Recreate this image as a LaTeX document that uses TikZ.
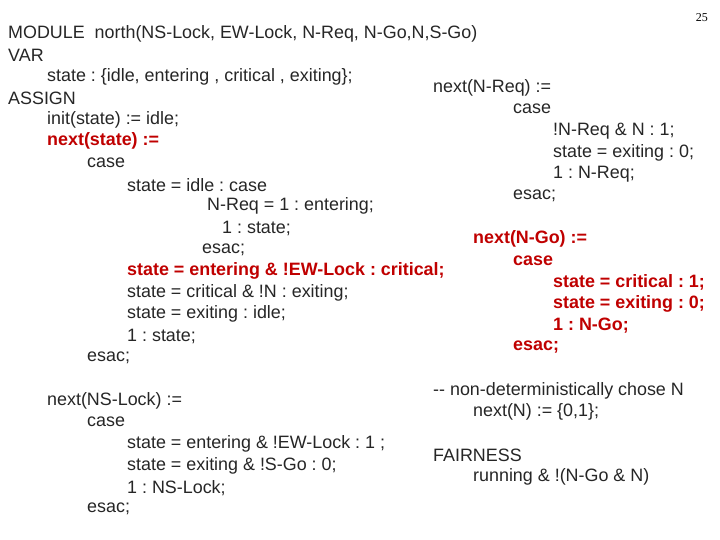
\documentclass[tikz,border=0pt]{standalone}
\usepackage{fontspec}
\setmainfont{Liberation Sans}
\newfontfamily\serifnum{Liberation Serif}
\definecolor{codered}{HTML}{C00000}
\frenchspacing
\begin{document}
\begin{tikzpicture}[x=1pt,y=-1pt,
  ln/.style={anchor=west,inner sep=0pt,font=\frenchspacing\fontsize{17.9}{20}\selectfont,text=black!85},
  rl/.style={ln,text=codered,font=\frenchspacing\fontsize{17.9}{20}\selectfont\bfseries}]
\useasboundingbox[fill=white] (0,0) rectangle (720,540);
\node[anchor=east,inner sep=0pt,font=\serifnum\fontsize{12}{14}\selectfont] (pg) at (708,18) {25};
\node[ln] (l1) at (8,34) {MODULE \ north(NS-Lock, EW-Lock, N-Req, N-Go,N,S-Go)};
\node[ln] (l2) at (8,55) {VAR};
\node[ln] (l3) at (47,77) {state : \{idle, entering , critical , exiting\};};
\node[ln] (l4) at (8,98) {ASSIGN};
\node[ln] (l5) at (47,120) {init(state) := idle;};
\node[rl] (l6) at (47,141) {next(state) :=};
\node[ln] (l7) at (87,163) {case};
\node[ln] (l8) at (127,185) {state = idle : case};
\node[ln] (l9) at (207,206) {N-Req = 1 : entering;};
\node[ln] (l10) at (222,228) {1 : state;};
\node[ln] (l11) at (202,250) {esac;};
\node[rl] (l12) at (127,271) {state = entering \& !EW-Lock : critical;};
\node[ln] (l13) at (127,293) {state = critical \& !N : exiting;};
\node[ln] (l14) at (127,314) {state = exiting : idle;};
\node[ln] (l15) at (127,336) {1 : state;};
\node[ln] (l16) at (87,358) {esac;};
\node[ln] (l17) at (47,401) {next(NS-Lock) :=};
\node[ln] (l18) at (87,422) {case};
\node[ln] (l19) at (127,444) {state = entering \& !EW-Lock : 1 ;};
\node[ln] (l20) at (127,466) {state = exiting \& !S-Go : 0;};
\node[ln] (l21) at (127,488) {1 : NS-Lock;};
\node[ln] (l22) at (87,509) {esac;};
\node[ln] (r1) at (433,88) {next(N-Req) :=};
\node[ln] (r2) at (513,109) {case};
\node[ln] (r3) at (553,131) {!N-Req \& N : 1;};
\node[ln] (r4) at (553,153) {state = exiting : 0;};
\node[ln] (r5) at (553,174) {1 : N-Req;};
\node[ln] (r6) at (513,196) {esac;};
\node[rl] (r7) at (473,239) {next(N-Go) :=};
\node[rl] (r8) at (513,261) {case};
\node[rl] (r9) at (553,282) {state = critical : 1;};
\node[rl] (r10) at (553,304) {state = exiting : 0;};
\node[rl] (r11) at (553,326) {1 : N-Go;};
\node[rl] (r12) at (513,347) {esac;};
\node[ln] (r13) at (433,391) {-{}- non-deterministically chose N};
\node[ln] (r14) at (473,412) {next(N) := \{0,1\};};
\node[ln] (r15) at (433,455) {FAIRNESS};
\node[ln] (r16) at (473,477) {running \& !(N-Go \& N)};
\end{tikzpicture}
\end{document}
